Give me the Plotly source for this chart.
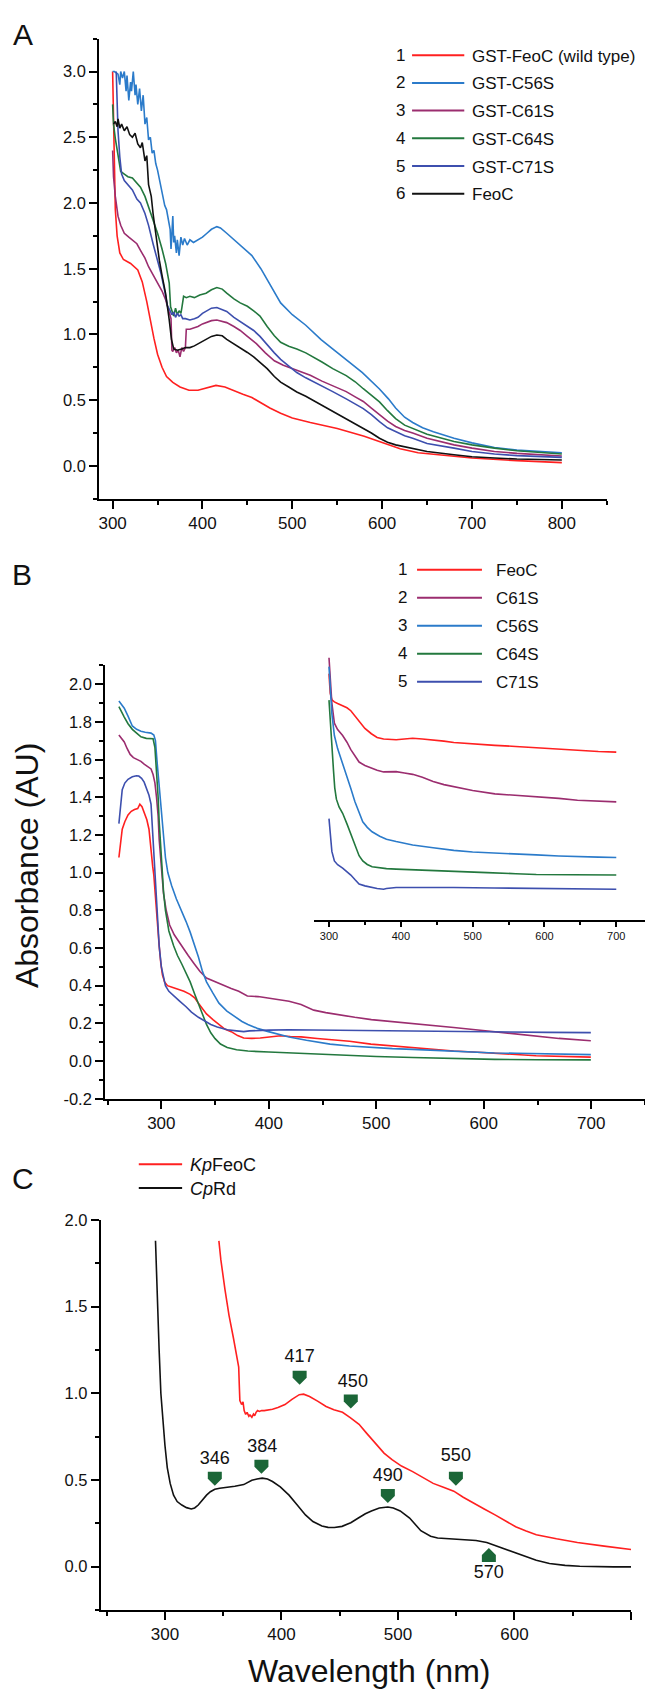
import plotly.graph_objects as go

W, H = 645, 1699
FONT = "Liberation Sans, Arial, sans-serif"

# ---------------- Panel A: GST fusions ----------------
A_WT_X = [300, 301, 302, 303, 305, 308, 312, 320, 328, 333, 338, 342, 346, 350, 355, 360, 367, 375, 385, 395,
          405, 415, 425, 435, 445, 455, 465, 475, 487, 500, 520, 550, 580, 600, 620, 640, 660, 700, 750, 800]
A_WT_Y = [3.0, 2.6, 2.2, 1.95, 1.75, 1.62, 1.57, 1.54, 1.49, 1.4, 1.25, 1.1, 0.97, 0.85, 0.75, 0.68, 0.635, 0.6, 0.575, 0.575,
          0.595, 0.612, 0.6, 0.57, 0.545, 0.52, 0.48, 0.44, 0.4, 0.365, 0.33, 0.285, 0.225, 0.18, 0.13, 0.1, 0.085, 0.06, 0.04, 0.025]

A_C56S_X = [300, 302, 306, 308, 309, 311, 313, 315, 316, 318, 320, 321, 323, 325, 326, 328, 330, 332, 334, 336,
            338, 340, 342, 344, 346, 348, 350, 352, 354, 356, 358, 360, 362, 364, 365, 366, 367, 368, 369, 371,
            372, 374, 376, 378, 380, 383, 386, 390, 395, 400, 405, 410, 416, 420, 427, 435, 445, 455, 465, 475,
            487, 500, 515, 532, 545, 560, 578, 597, 607, 615, 625, 634, 645, 657, 680, 700, 725, 750, 775, 800]
A_C56S_Y = [3.0, 3.0, 2.98, 2.9, 3.0, 2.95, 3.0, 2.85, 2.97, 2.78, 2.92, 2.85, 3.0, 2.82, 2.9, 2.75, 2.87, 2.7, 2.82, 2.6,
            2.65, 2.48, 2.5, 2.38, 2.4, 2.3, 2.25, 2.18, 2.12, 2.05, 1.98, 1.95, 1.88, 1.8, 1.65, 1.78, 1.9, 1.7, 1.75, 1.62,
            1.72, 1.6, 1.74, 1.68, 1.73, 1.68, 1.72, 1.7, 1.72, 1.74, 1.77, 1.8, 1.82, 1.81, 1.77, 1.72, 1.66, 1.6, 1.5, 1.38,
            1.24, 1.15, 1.07, 0.96, 0.89, 0.81, 0.71, 0.585, 0.51, 0.44, 0.37, 0.33, 0.29, 0.26, 0.21, 0.175, 0.14, 0.12, 0.108, 0.1]

A_C61S_X = [300, 301, 303, 306, 309, 313, 318, 322, 327, 331, 336, 340, 345, 350, 355, 359, 363, 365, 366, 367,
            369, 371, 373, 375, 377, 379, 381, 382, 386, 390, 395, 400, 405, 410, 416, 422, 427, 435, 442, 450,
            460, 470, 480, 490, 500, 510, 520, 533, 545, 560, 570, 579, 588, 597, 606, 615, 625, 634, 650, 680,
            700, 725, 750, 800]
A_C61S_Y = [2.4, 2.2, 2.05, 1.9, 1.83, 1.77, 1.74, 1.715, 1.69, 1.64, 1.58, 1.515, 1.45, 1.39, 1.33, 1.264, 1.18, 1.12, 0.88, 0.87,
            0.9, 0.86, 0.88, 0.83, 0.9, 0.87, 0.9, 1.04, 1.04, 1.05, 1.06, 1.08, 1.095, 1.105, 1.11, 1.1, 1.09, 1.06, 1.03, 0.985,
            0.93, 0.86, 0.8, 0.765, 0.74, 0.72, 0.69, 0.645, 0.61, 0.565, 0.525, 0.49, 0.44, 0.39, 0.34, 0.3, 0.27, 0.25, 0.21, 0.16,
            0.135, 0.11, 0.095, 0.075]

A_C64S_X = [300, 301, 303, 306, 309, 313, 317, 322, 327, 331, 336, 340, 345, 350, 355, 359, 363, 364.5, 366, 368,
            370, 372, 374, 376, 377, 379, 382, 386, 391, 397, 404, 410, 416, 422, 427, 435, 442, 450, 457, 464,
            472, 480, 487, 496, 505, 515, 533, 545, 560, 570, 579, 588, 597, 606, 615, 625, 634, 650, 680, 700,
            725, 750, 800]
A_C64S_Y = [2.75, 2.6, 2.49, 2.35, 2.24, 2.22, 2.2, 2.19, 2.15, 2.12, 2.05, 1.97, 1.87, 1.77, 1.65, 1.54, 1.39, 1.21, 1.18, 1.14,
            1.2, 1.15, 1.18, 1.16, 1.2, 1.29, 1.28, 1.29, 1.28, 1.3, 1.314, 1.34, 1.357, 1.345, 1.314, 1.27, 1.24, 1.214, 1.18, 1.14,
            1.06, 0.99, 0.94, 0.91, 0.89, 0.86, 0.79, 0.74, 0.687, 0.64, 0.587, 0.54, 0.487, 0.42, 0.36, 0.31, 0.286, 0.24, 0.186, 0.16,
            0.135, 0.115, 0.09]

A_C71S_X = [304, 305, 306, 308, 310, 313, 317, 322, 327, 331, 336, 340, 345, 350, 354, 358, 361, 364, 366, 368,
            370, 372, 374, 376, 378, 381, 386, 391, 395, 400, 405, 410, 416, 422, 427, 435, 442, 450, 457, 464,
            472, 480, 487, 496, 505, 515, 533, 545, 560, 570, 579, 588, 597, 606, 615, 625, 634, 650, 680, 700,
            725, 750, 800]
A_C71S_Y = [3.0, 2.8, 2.55, 2.35, 2.22, 2.17, 2.14, 2.1, 2.03, 2.0, 1.92, 1.83, 1.69, 1.56, 1.46, 1.33, 1.22, 1.18, 1.15, 1.17,
            1.13, 1.16, 1.14, 1.15, 1.12, 1.12, 1.11, 1.12, 1.13, 1.16, 1.18, 1.2, 1.205, 1.19, 1.175, 1.13, 1.1, 1.06, 1.03, 0.985,
            0.92, 0.86, 0.81, 0.76, 0.71, 0.67, 0.61, 0.565, 0.51, 0.47, 0.436, 0.39, 0.336, 0.29, 0.26, 0.23, 0.21, 0.17, 0.135, 0.11,
            0.09, 0.078, 0.065]

A_FEOC_X = [301, 303, 305, 306, 308, 310, 313, 316, 319, 322, 325, 328, 331, 333, 336, 338, 340, 343, 345, 348,
            352, 355, 359, 363, 365.5, 368, 372, 377, 381, 386, 391, 398, 404, 410, 416, 422, 427, 435, 442, 450,
            457, 464, 472, 480, 487, 496, 505, 515, 533, 545, 560, 570, 579, 588, 597, 606, 615, 625, 634, 650,
            680, 700, 725, 750, 800]
A_FEOC_Y = [2.6, 2.62, 2.58, 2.64, 2.57, 2.6, 2.55, 2.58, 2.52, 2.5, 2.53, 2.45, 2.42, 2.46, 2.32, 2.36, 2.14, 2.05, 1.92, 1.75,
            1.565, 1.45, 1.31, 1.11, 0.963, 0.89, 0.88, 0.89, 0.9, 0.9, 0.913, 0.94, 0.963, 0.985, 0.996, 0.99, 0.963, 0.93, 0.9, 0.863,
            0.83, 0.79, 0.74, 0.68, 0.637, 0.6, 0.562, 0.53, 0.461, 0.42, 0.36, 0.32, 0.286, 0.25, 0.21, 0.18, 0.16, 0.145, 0.135, 0.11,
            0.085, 0.07, 0.06, 0.052, 0.045]

A_NAMES = ["GST-FeoC (wild type)", "GST-C56S", "GST-C61S", "GST-C64S", "GST-C71S", "FeoC"]
A_COLORS = ["#ff2020", "#2b7bca", "#9b2d6f", "#23783e", "#3d4fae", "#111111"]
A_SERIES = [(A_WT_X, A_WT_Y), (A_C56S_X, A_C56S_Y), (A_C61S_X, A_C61S_Y),
            (A_C64S_X, A_C64S_Y), (A_C71S_X, A_C71S_Y), (A_FEOC_X, A_FEOC_Y)]

# ---------------- Panel B: isolated proteins ----------------
B_FEOC_X = [260.5, 263.6, 266, 269, 272, 275, 278, 280, 282, 284.7, 286.5, 288.5, 290.4, 292, 293, 294.3, 295.4, 296.7, 298, 299.5,
            301, 303, 305.7, 310, 315.3, 321, 326.8, 331, 334.5, 338, 342, 348, 353.6, 359, 365, 371, 376.6, 384, 392, 400,
            411, 420, 430, 445, 457, 475, 495, 515, 533.7, 552, 572, 590, 610, 630, 648.7, 670, 699.6]
B_FEOC_Y = [1.08, 1.23, 1.27, 1.306, 1.325, 1.335, 1.34, 1.363, 1.35, 1.306, 1.28, 1.23, 1.1, 1.03, 0.986, 0.88, 0.797, 0.7, 0.61, 0.52,
            0.458, 0.42, 0.4, 0.392, 0.383, 0.37, 0.354, 0.335, 0.307, 0.28, 0.25, 0.22, 0.194, 0.17, 0.156, 0.135, 0.122, 0.12, 0.122, 0.128,
            0.134, 0.13, 0.128, 0.12, 0.115, 0.105, 0.09, 0.08, 0.072, 0.063, 0.053, 0.048, 0.043, 0.035, 0.028, 0.024, 0.021]

B_C61S_X = [260.5, 263, 265.5, 268, 271, 274, 277, 281, 284, 287, 290.4, 292.3, 294, 295.5, 297, 298, 300, 302, 304.5, 307.7,
            312, 319, 325, 330.7, 336, 342, 350, 357.5, 365, 372, 376.6, 378, 380, 390, 399.6, 410, 418.8, 430, 441.8, 453,
            464.8, 480, 495.4, 515, 533.7, 552, 572, 590, 610, 630, 648.7, 670, 699.6]
B_C61S_Y = [1.73, 1.71, 1.693, 1.66, 1.627, 1.61, 1.6, 1.59, 1.575, 1.565, 1.55, 1.52, 1.476, 1.4, 1.3, 1.174, 1.03, 0.89, 0.8, 0.722,
            0.67, 0.609, 0.56, 0.515, 0.475, 0.44, 0.42, 0.4, 0.385, 0.37, 0.354, 0.35, 0.345, 0.342, 0.335, 0.327, 0.317, 0.3, 0.27, 0.257,
            0.245, 0.232, 0.22, 0.21, 0.2, 0.189, 0.178, 0.167, 0.155, 0.143, 0.132, 0.12, 0.108]

B_C56S_X = [260.5, 263, 265.5, 269, 273, 277, 281, 285, 290.4, 293, 294.5, 296, 298, 300, 302, 303.8, 306, 309.6, 314, 319,
            323, 326.8, 330.7, 334.5, 338, 342, 348, 353.6, 361, 369, 375, 380.5, 390, 399.6, 410, 418.8, 435, 457, 475, 495.4,
            515, 533.7, 552, 572, 590, 610, 630, 648.7, 670, 699.6]
B_C56S_Y = [1.91, 1.89, 1.872, 1.83, 1.778, 1.76, 1.75, 1.745, 1.74, 1.73, 1.7, 1.59, 1.46, 1.325, 1.2, 1.08, 1.0, 0.93, 0.86, 0.797,
            0.74, 0.684, 0.62, 0.552, 0.48, 0.42, 0.36, 0.307, 0.265, 0.232, 0.21, 0.194, 0.172, 0.156, 0.14, 0.128, 0.11, 0.09, 0.08, 0.072,
            0.066, 0.062, 0.057, 0.053, 0.048, 0.043, 0.041, 0.04, 0.037, 0.034]

B_C64S_X = [260.5, 263, 265.5, 269, 273, 277, 281, 286, 292.3, 294, 295.5, 297, 298, 300, 302, 303.8, 307, 311.5, 315, 319,
            323, 326.8, 330.7, 334.5, 338, 342, 346, 350, 355, 361.3, 370, 380.5, 400, 418.8, 440, 457, 480, 500, 533.7, 570,
            610, 650, 699.6]
B_C64S_Y = [1.88, 1.85, 1.825, 1.79, 1.76, 1.74, 1.72, 1.712, 1.71, 1.665, 1.55, 1.4, 1.27, 1.06, 0.9, 0.8, 0.69, 0.61, 0.56, 0.515,
            0.47, 0.42, 0.36, 0.307, 0.25, 0.194, 0.15, 0.119, 0.09, 0.072, 0.06, 0.053, 0.048, 0.043, 0.038, 0.034, 0.028, 0.024, 0.019, 0.014,
            0.009, 0.007, 0.006]

B_C71S_X = [260.5, 262, 263.6, 266, 269, 273, 276.8, 279, 281.6, 284, 286.6, 288.5, 290.4, 292, 294.3, 296, 298, 300, 303.8, 307,
            311.5, 317, 323, 328, 334.5, 340, 346, 352, 361.3, 370, 376.6, 382, 388, 400, 418.8, 450, 495.4, 530, 572, 620,
            660, 699.6]
B_C71S_Y = [1.26, 1.36, 1.44, 1.475, 1.495, 1.508, 1.514, 1.512, 1.5, 1.48, 1.44, 1.41, 1.363, 1.2, 0.986, 0.79, 0.61, 0.5, 0.4, 0.37,
            0.345, 0.318, 0.288, 0.26, 0.232, 0.212, 0.194, 0.18, 0.166, 0.16, 0.156, 0.16, 0.162, 0.164, 0.166, 0.164, 0.16, 0.158, 0.155, 0.153,
            0.152, 0.151]

B_NAMES = ["FeoC", "C61S", "C56S", "C64S", "C71S"]
B_COLORS = ["#ff2020", "#9b2d6f", "#2b7bca", "#23783e", "#3d4fae"]
B_SERIES = [(B_FEOC_X, B_FEOC_Y), (B_C61S_X, B_C61S_Y), (B_C56S_X, B_C56S_Y),
            (B_C64S_X, B_C64S_Y), (B_C71S_X, B_C71S_Y)]
B_YTICKS = [-0.2, 0.0, 0.2, 0.4, 0.6, 0.8, 1.0, 1.2, 1.4, 1.6, 1.8, 2.0]
B_YTICKTEXT = ["-0.2", "0.0", "0.2", "0.4", "0.6", "0.8", "1.0", "1.2", "1.4", "1.6", "1.8", "2.0"]

# inset of panel B (vertically offset traces, arbitrary units)
I_FEOC_X = [300, 301.7, 304, 307.5, 312, 319, 325, 330.4, 336, 341.9, 350, 359, 367, 376, 385, 393.5, 405, 416.5, 430, 445,
            460, 473.8, 500, 531, 560, 588.6, 620, 646, 675, 700]
I_FEOC_Y = [2.327, 2.143, 2.08, 2.06, 2.045, 2.027, 2.005, 1.977, 1.93, 1.877, 1.81, 1.76, 1.725, 1.71, 1.705, 1.703, 1.71, 1.717, 1.71, 1.703,
            1.69, 1.677, 1.663, 1.65, 1.64, 1.627, 1.613, 1.6, 1.593, 1.587]
I_C61S_X = I_FEOC_X
I_C61S_Y = [2.477, 2.31, 2.05, 1.86, 1.8, 1.743, 1.68, 1.61, 1.55, 1.493, 1.46, 1.437, 1.415, 1.4, 1.405, 1.403, 1.39, 1.377, 1.35, 1.31,
            1.28, 1.26, 1.225, 1.193, 1.18, 1.17, 1.15, 1.133, 1.124, 1.117]
I_C56S_X = [300, 301.7, 304, 307.5, 312, 319, 325, 330.4, 336, 341.9, 347, 353.3, 360, 370.6, 380, 393.5, 405, 416.5, 445, 473.8,
            500, 531, 560, 588.6, 620, 646, 675, 700]
I_C56S_Y = [2.393, 2.177, 1.95, 1.743, 1.62, 1.477, 1.36, 1.243, 1.12, 1.01, 0.93, 0.877, 0.835, 0.793, 0.765, 0.743, 0.725, 0.71, 0.685, 0.66,
            0.645, 0.633, 0.625, 0.617, 0.607, 0.6, 0.596, 0.593]
I_C64S_X = [300, 301.7, 303, 304.5, 306.3, 308, 310.3, 314, 319, 325, 330.4, 336, 341.9, 347, 353.3, 360, 370.6, 380, 393.5, 420,
            450, 473.8, 520, 560, 588.6, 640, 700]
I_C64S_Y = [2.077, 1.877, 1.7, 1.55, 1.41, 1.25, 1.143, 1.07, 1.01, 0.91, 0.81, 0.71, 0.61, 0.56, 0.527, 0.505, 0.493, 0.488, 0.483, 0.475,
            0.467, 0.46, 0.45, 0.44, 0.433, 0.43, 0.427]
I_C71S_X = [300, 301.7, 304, 307.5, 312, 319, 325, 330.4, 336, 341.9, 350, 359, 367, 376, 380, 393.5, 420, 473.8, 530, 588.6,
            640, 700]
I_C71S_Y = [0.96, 0.81, 0.65, 0.56, 0.525, 0.493, 0.46, 0.427, 0.385, 0.343, 0.325, 0.31, 0.3, 0.293, 0.3, 0.31, 0.312, 0.31, 0.305, 0.3,
            0.296, 0.293]
I_SERIES = [(I_FEOC_X, I_FEOC_Y), (I_C61S_X, I_C61S_Y), (I_C56S_X, I_C56S_Y),
            (I_C64S_X, I_C64S_Y), (I_C71S_X, I_C71S_Y)]

# ---------------- Panel C: KpFeoC vs CpRd ----------------
C_RD_X = [291.9, 293, 294, 295, 296.5, 298.6, 300, 302, 304.5, 307.4, 310.5, 314.5, 318.5, 322.6, 325.5, 328.6, 332, 335.7, 339, 342.8,
          347, 353.4, 360, 367.6, 371, 374.6, 379, 383.5, 388, 392.3, 399, 406.5, 413, 420.6, 427, 434.7, 440, 445.4, 452, 459.5,
          466, 472, 477.2, 484, 491.3, 496, 501.9, 510, 519.6, 528, 534, 540.8, 548, 558.5, 567, 576.2, 588, 601, 610, 618.7,
          630, 643.4, 656, 671.7, 685, 700]
C_RD_Y = [1.88, 1.6, 1.4, 1.254, 1.0, 0.8, 0.7, 0.571, 0.48, 0.412, 0.375, 0.355, 0.34, 0.332, 0.338, 0.355, 0.385, 0.412, 0.432, 0.446,
          0.452, 0.457, 0.463, 0.473, 0.485, 0.498, 0.505, 0.51, 0.505, 0.491, 0.46, 0.412, 0.36, 0.298, 0.26, 0.234, 0.226, 0.225, 0.232, 0.253,
          0.28, 0.305, 0.321, 0.338, 0.344, 0.338, 0.321, 0.28, 0.207, 0.175, 0.165, 0.162, 0.16, 0.157, 0.15, 0.139, 0.11, 0.082, 0.058, 0.036,
          0.018, 0.007, 0.002, -0.002, -0.002, -0.002]
C_FEOC_X = [346.3, 348, 351.6, 355, 358.7, 361, 363.3, 363.8, 364.3, 365.8, 367, 368, 369.3, 370.5, 372, 373, 374.6, 376, 377, 378.2,
            379.5, 381, 383, 385.2, 388, 392.3, 397, 403, 409, 415.3, 419, 424.1, 431, 438.3, 445, 452.4, 459, 466.6, 473, 480.7,
            488, 494.9, 503, 512.6, 521, 530.2, 539, 547.9, 556, 565.6, 574, 583.3, 592, 601, 610, 618.7, 636, 654, 677, 700]
C_FEOC_Y = [1.88, 1.77, 1.595, 1.45, 1.322, 1.24, 1.151, 1.05, 0.958, 0.935, 0.95, 0.9, 0.878, 0.89, 0.867, 0.875, 0.862, 0.88, 0.87, 0.89,
            0.9, 0.895, 0.9, 0.9, 0.902, 0.908, 0.918, 0.935, 0.965, 0.992, 0.995, 0.981, 0.955, 0.924, 0.905, 0.89, 0.86, 0.821, 0.77, 0.708,
            0.655, 0.617, 0.58, 0.548, 0.515, 0.48, 0.458, 0.435, 0.4, 0.366, 0.332, 0.298, 0.263, 0.23, 0.205, 0.184, 0.16, 0.139, 0.118, 0.098]

C_NAMES = ["<i>Kp</i>FeoC", "<i>Cp</i>Rd"]
C_COLORS = ["#ff2020", "#111111"]

# peak markers (centre of the arrowhead) and their labels
PEAK_LABELS = ["417", "450", "346", "384", "490", "550", "570"]
PEAK_X = [415.6, 459.5, 342.8, 382.8, 491.3, 549.7, 578.0]
PEAK_Y = [1.090, 0.953, 0.507, 0.576, 0.407, 0.507, 0.066]
PEAK_DOWN = [True, True, True, True, True, True, False]
LABEL_X = [415.6, 461.3, 342.8, 383.5, 491.3, 549.7, 578.0]
LABEL_Y = [1.208, 1.060, 0.617, 0.685, 0.521, 0.635, -0.043]

for xs, ys in A_SERIES + B_SERIES + I_SERIES + [(C_RD_X, C_RD_Y), (C_FEOC_X, C_FEOC_Y)]:
    assert len(xs) == len(ys), (len(xs), len(ys))

# "home plate" arrowhead outline in pixels around its anchor (y up)
ARROW_DOWN = "M-7,7 L7,7 L7,0 L0,-7 L-7,0 Z"
ARROW_UP = "M-7,-7 L7,-7 L7,0 L0,7 L-7,0 Z"
PEAK_COLOR = "#1b6637"


def px(x):
    return x / W


def py(y):
    return 1 - y / H


fig = go.Figure()

for name, color, (xs, ys) in zip(A_NAMES, A_COLORS, A_SERIES):
    fig.add_trace(go.Scatter(x=xs, y=ys, mode="lines", name=name, xaxis="x", yaxis="y",
                             line=dict(color=color, width=1.6)))
for name, color, (xs, ys) in zip(B_NAMES, B_COLORS, B_SERIES):
    fig.add_trace(go.Scatter(x=xs, y=ys, mode="lines", name=name, xaxis="x2", yaxis="y2",
                             line=dict(color=color, width=1.6)))
for name, color, (xs, ys) in zip(B_NAMES, B_COLORS, I_SERIES):
    fig.add_trace(go.Scatter(x=xs, y=ys, mode="lines", name=name + " (inset)", xaxis="x3", yaxis="y3",
                             line=dict(color=color, width=1.6)))
fig.add_trace(go.Scatter(x=C_FEOC_X, y=C_FEOC_Y, mode="lines", name="KpFeoC", xaxis="x4", yaxis="y4",
                         line=dict(color=C_COLORS[0], width=1.6)))
fig.add_trace(go.Scatter(x=C_RD_X, y=C_RD_Y, mode="lines", name="CpRd", xaxis="x4", yaxis="y4",
                         line=dict(color=C_COLORS[1], width=1.6)))
fig.add_trace(go.Scatter(x=LABEL_X, y=LABEL_Y, mode="text", text=PEAK_LABELS, xaxis="x4", yaxis="y4",
                         textfont=dict(size=18, color="#111111", family=FONT)))

axis_style = dict(showline=True, linecolor="black", linewidth=2, ticks="outside", tickwidth=2, ticklen=8,
                  tickcolor="black", showgrid=False, zeroline=False,
                  tickfont=dict(size=16.5, color="#111111", family=FONT))
minor_style = dict(ticks="outside", ticklen=4, tickwidth=2, tickcolor="black", showgrid=False)

fig.update_layout(
    width=W, height=H, margin=dict(l=0, r=0, t=0, b=0),
    paper_bgcolor="white", plot_bgcolor="white", showlegend=False,
    font=dict(family=FONT, color="#111111"),
    xaxis=dict(axis_style, domain=[px(98.3), px(606.7)], anchor="y", range=[285, 850],
               tick0=300, dtick=100, minor=dict(minor_style, tick0=300, dtick=50),
               tickfont=dict(size=17, color="#111111", family=FONT)),
    yaxis=dict(axis_style, domain=[py(495), py(30)], anchor="x", range=[-0.25, 3.25],
               tick0=0, dtick=0.5, tickformat=".1f", minor=dict(minor_style, tick0=0, dtick=0.25)),
    xaxis2=dict(axis_style, domain=[px(104.3), 1.0], anchor="y2", range=[247.7, 750],
                tick0=300, dtick=100, minor=dict(minor_style, tick0=250, dtick=50),
                tickfont=dict(size=17, color="#111111", family=FONT)),
    yaxis2=dict(axis_style, domain=[py(1101.4), py(663.3)], anchor="x2", range=[-0.2, 2.1],
                tickmode="array", tickvals=B_YTICKS, ticktext=B_YTICKTEXT,
                minor=dict(minor_style, tick0=0, dtick=0.1)),
    xaxis3=dict(showline=True, linecolor="black", linewidth=1.5, ticks="outside", tickwidth=1.5, ticklen=5,
                tickcolor="black", showgrid=False, zeroline=False,
                tickfont=dict(size=11, color="#111111", family=FONT),
                domain=[px(313.4), 1.0], anchor="y3", range=[279, 740], tick0=300, dtick=100,
                minor=dict(ticks="outside", ticklen=3, tickwidth=1.5, tickcolor="black", tick0=300, dtick=50)),
    yaxis3=dict(visible=False, domain=[py(921.1), py(653.2)], anchor="x3", range=[0, 2.5]),
    xaxis4=dict(axis_style, domain=[px(100), px(631)], anchor="y4", range=[245, 700],
                tick0=300, dtick=100, minor=dict(minor_style, tick0=250, dtick=50),
                tickfont=dict(size=17, color="#111111", family=FONT)),
    yaxis4=dict(axis_style, domain=[py(1618), py(1224)], anchor="x4", range=[-0.25, 2.0],
                tick0=0, dtick=0.5, tickformat=".1f", minor=dict(minor_style, tick0=0, dtick=0.25)),
)

shapes = []
annotations = []


def add_text(x, y, text, size, xanchor="center", **kw):
    annotations.append(dict(x=px(x), y=py(y), xref="paper", yref="paper", text=text, showarrow=False,
                            xanchor=xanchor, yanchor="middle", font=dict(size=size, color="#111111", family=FONT), **kw))


# peak arrowheads, anchored on the data positions of panel C
for x, y, down in zip(PEAK_X, PEAK_Y, PEAK_DOWN):
    shapes.append(dict(type="path", xref="x4", yref="y4", xsizemode="pixel", ysizemode="pixel",
                       xanchor=x, yanchor=y, path=ARROW_DOWN if down else ARROW_UP,
                       fillcolor=PEAK_COLOR, line=dict(width=0), layer="above"))

# numbered legends (A and B)
for i, (name, color) in enumerate(zip(A_NAMES, A_COLORS)):
    y = 46.7 + 28 * i
    add_text(400, y, str(i + 1), 17)
    shapes.append(dict(type="line", xref="paper", yref="paper", x0=px(411.7), x1=px(464), y0=py(y), y1=py(y),
                       line=dict(color=color, width=2)))
    add_text(470, y + 1, name, 17, xanchor="left")

for i, (name, color) in enumerate(zip(B_NAMES, B_COLORS)):
    y = 566.7 + 28.3 * i
    add_text(401.7, y, str(i + 1), 17)
    shapes.append(dict(type="line", xref="paper", yref="paper", x0=px(416.7), x1=px(481.7), y0=py(y), y1=py(y),
                       line=dict(color=color, width=2)))
    add_text(493.3, y + 1, name, 17, xanchor="left")

for i, (name, color) in enumerate(zip(C_NAMES, C_COLORS)):
    y = 1167.6 + 24.1 * i
    shapes.append(dict(type="line", xref="paper", yref="paper", x0=px(138), x1=px(181.4), y0=py(y), y1=py(y),
                       line=dict(color=color, width=2)))
    add_text(187.6, y + 1, name, 18, xanchor="left")

# panel letters and axis titles
add_text(22.5, 26, "A", 30)
add_text(21.5, 572, "B", 30)
add_text(22.5, 1182, "C", 30)
add_text(26.8, 865.5, "Absorbance (AU)", 32, textangle=-90)
add_text(369, 1680, "Wavelength (nm)", 32)

fig.update_layout(shapes=shapes, annotations=annotations)

fig.write_html("out.html", config={"displayModeBar": False},
               post_script="document.body.style.margin='0';")
